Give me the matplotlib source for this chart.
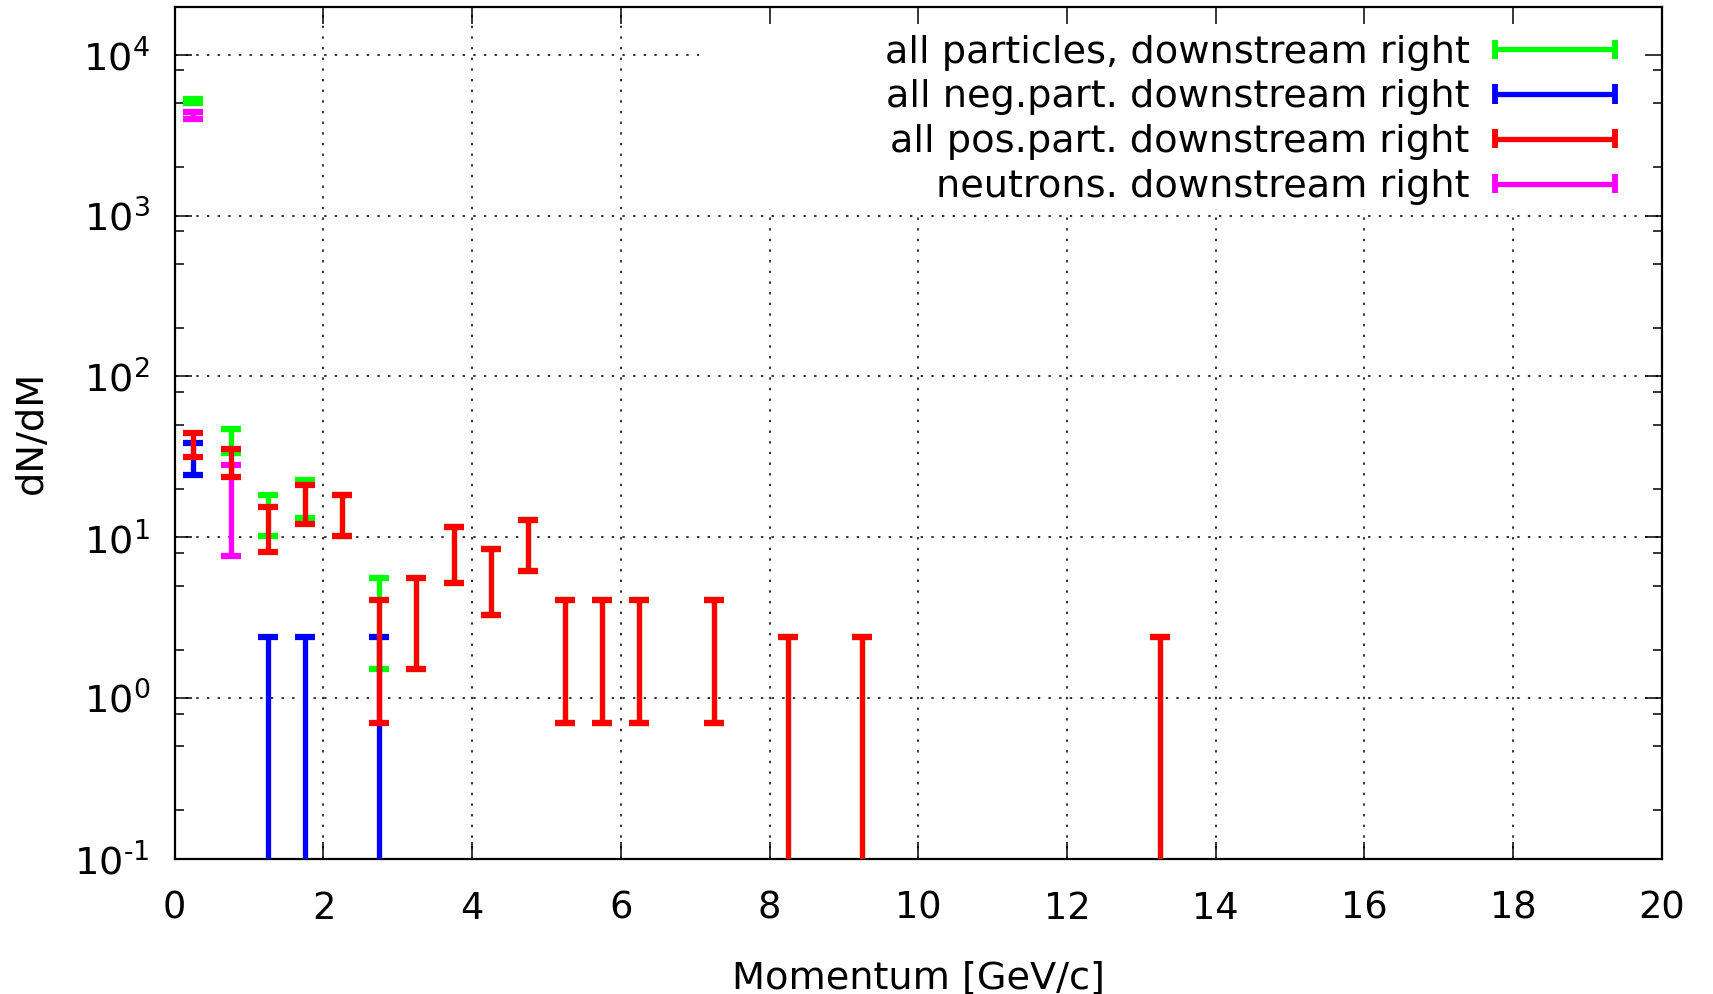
import numpy as np
import matplotlib
matplotlib.use("Agg")
import matplotlib.pyplot as plt
from matplotlib.patches import Rectangle
from matplotlib.ticker import LogLocator, FuncFormatter, NullFormatter

plt.rcParams['font.family'] = ['DejaVu Sans']

# ---------------- data ----------------
x_all = [0.25, 0.75, 1.25, 1.75, 2.25, 2.75, 3.25, 3.75, 4.25, 4.75,
         5.25, 5.75, 6.25, 7.25, 8.25, 9.25, 13.25]
all_val = [5170, 40.4, 14.3, 17.95, 14.2, 3.54, 3.54, 8.35, 5.9, 9.5,
           2.38, 2.38, 2.38, 2.38, 1.19, 1.19, 1.19]
all_err = [150, 7.0, 4.1, 4.85, 4.1, 2.03, 2.03, 3.15, 2.6, 3.35,
           1.68, 1.68, 1.68, 1.68, 1.19, 1.19, 1.19]

x_neg = [0.25, 1.25, 1.75, 2.75]
neg_val = [31.4, 1.19, 1.19, 1.19]
neg_err = [7.1, 1.19, 1.19, 1.19]

x_pos = [0.25, 0.75, 1.25, 1.75, 2.25, 2.75, 3.25, 3.75, 4.25, 4.75,
         5.25, 5.75, 6.25, 7.25, 8.25, 9.25, 13.25]
pos_val = [38.0, 29.4, 11.8, 16.5, 14.2, 2.38, 3.54, 8.35, 5.9, 9.5,
           2.38, 2.38, 2.38, 2.38, 1.19, 1.19, 1.19]
pos_err = [6.5, 5.8, 3.7, 4.5, 4.1, 1.68, 2.03, 3.15, 2.6, 3.35,
           1.68, 1.68, 1.68, 1.68, 1.19, 1.19, 1.19]

x_neu = [0.25, 0.75]
neu_val = [4225, 17.9]
neu_err = [210, 10.3]

labels = ["all particles, downstream right",
          "all neg.part. downstream right",
          "all pos.part. downstream right",
          "neutrons. downstream right"]
colors = ["#00ff00", "#0000ff", "#ff0000", "#ff00ff"]

xticks = [0, 2, 4, 6, 8, 10, 12, 14, 16, 18, 20]
xlabel = "Momentum [GeV/c]"
ylabel = "dN/dM"

# ---------------- figure ----------------
fig = plt.figure(figsize=(17.13, 9.94), dpi=100)
ax = fig.add_axes([0.10204, 0.13612, 0.86801, 0.85734])
ax.set_yscale('log')
ax.set_xlim(0, 20)
ax.set_ylim(0.1, 2e4)

# grid (drawn manually so the key box can hide it but not the ticks)
grid_kw = dict(color='#222222', linewidth=1.3, linestyle=(0, (1.3, 4.6)), zorder=1)
for e in range(-1, 5):
    ax.axhline(10.0 ** e, **grid_kw)
for xv in xticks[1:-1]:
    ax.axvline(xv, **grid_kw)

# opaque key background
ax.add_patch(Rectangle((0.3527, 0.762), 0.6473, 0.238, transform=ax.transAxes,
                       facecolor='white', edgecolor='none', zorder=1.5))


def draw(xs, vals, errs, color, z):
    vals = np.asarray(vals, float)
    errs = np.asarray(errs, float)
    lo = np.where(vals - errs > 0, errs, vals - 1e-4)
    ax.errorbar(xs, vals, yerr=[lo, errs], fmt='none', ecolor=color,
                elinewidth=3.8, capsize=7, capthick=4.5, zorder=z)


draw(x_all, all_val, all_err, colors[0], 3)
draw(x_neg, neg_val, neg_err, colors[1], 4)
draw(x_neu, neu_val, neu_err, colors[3], 5)
draw(x_pos, pos_val, pos_err, colors[2], 6)

# key
row_y = [0.9499, 0.8973, 0.8449, 0.7923]
for lab, col, yy in zip(labels, colors, row_y):
    ax.text(0.8707, yy - 0.004, lab, transform=ax.transAxes, ha='right', va='center',
            fontsize=27.5, zorder=8)
    ax.plot([0.8876, 0.9684], [yy, yy], transform=ax.transAxes, color=col,
            lw=3.8, solid_capstyle='butt', zorder=8, clip_on=False)
    for xe in (0.8876, 0.9684):
        ax.plot([xe, xe], [yy - 0.0112, yy + 0.0112], transform=ax.transAxes,
                color=col, lw=4.2, solid_capstyle='butt', zorder=8, clip_on=False)


def log_fmt(v, pos):
    e = int(round(np.log10(v)))
    es = str(e).replace('-', '\u2010')
    return r'$\mathdefault{10^{%s}}$' % es


# axes styling
ax.set_axisbelow(False)
ax.set_xticks(xticks)
ax.set_xticklabels([str(v) for v in xticks])
ax.yaxis.set_major_locator(LogLocator(base=10, numticks=20))
ax.yaxis.set_major_formatter(FuncFormatter(log_fmt))
ax.yaxis.set_minor_locator(LogLocator(base=10, subs=[2, 5, 8], numticks=20))
ax.yaxis.set_minor_formatter(NullFormatter())
ax.xaxis.set_minor_locator(matplotlib.ticker.NullLocator())

ax.tick_params(which='both', direction='in', top=True, right=True, colors='black', width=1.1)
ax.tick_params(which='major', length=12.5)
ax.tick_params(which='minor', length=6.5)
ax.tick_params(axis='x', which='major', pad=22.5, labelsize=26.5)
ax.tick_params(axis='y', which='major', pad=18, labelsize=27.5)
for s in ax.spines.values():
    s.set_linewidth(1.6)
    s.set_color('black')

ax.set_xlabel(xlabel, fontsize=27.5)
ax.set_ylabel(ylabel, fontsize=27.5)
ax.xaxis.set_label_coords(0.5, -0.1194)
ax.yaxis.set_label_coords(-0.0843, 0.5)

fig.savefig("out.png", dpi=100)
